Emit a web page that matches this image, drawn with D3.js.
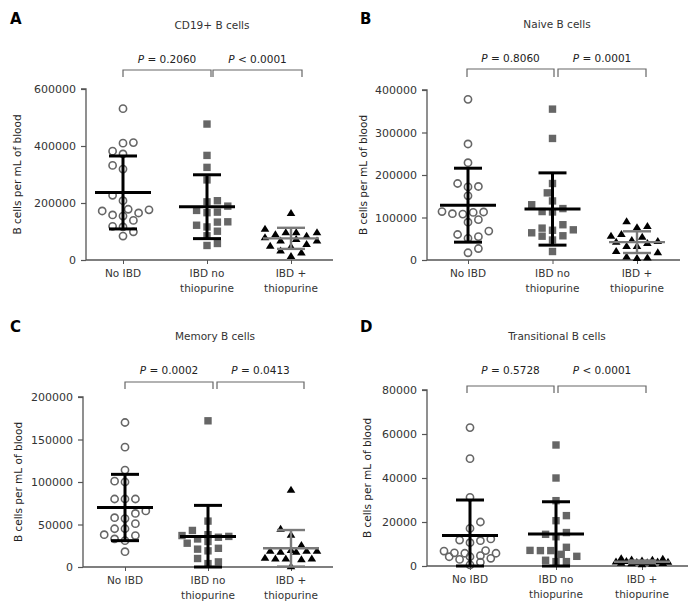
<!DOCTYPE html>
<html><head><meta charset="utf-8">
<script src="https://cdn.jsdelivr.net/npm/d3@7"></script>
<style>body{margin:0;background:#fff}svg text{font-family:"DejaVu Sans",Verdana,sans-serif}</style>
</head><body><svg id="chart" width="700" height="613"></svg>
<script>
// ---------- data ----------
const categories = ["No IBD", "IBD no thiopurine", "IBD + thiopurine"];
const categoryLines = [["No IBD"], ["IBD no", "thiopurine"], ["IBD +", "thiopurine"]];
const panelLetters = ["A", "B", "C", "D"];
const panelTitles = ["CD19+ B cells", "Naive B cells", "Memory B cells", "Transitional B cells"];
const yAxisLabel = "B cells per mL of blood";
const yMaxima = [600000, 400000, 200000, 80000];
const yTickSteps = [200000, 100000, 50000, 20000];
const pValueLabels = [["= 0.2060", "< 0.0001"], ["= 0.8060", "= 0.0001"], ["= 0.0002", "= 0.0413"], ["= 0.5728", "< 0.0001"]];

const cd19NoIBD = [531000, 412000, 410000, 382000, 372000, 332000, 319000, 227000, 208000, 178000, 176000, 172000, 165000, 158000, 154000, 139000, 118000, 116000, 99000, 84000];
const cd19NoThio = [477000, 367000, 325000, 281000, 208000, 204000, 189000, 174000, 168000, 166000, 134000, 133000, 122000, 116000, 101000, 85000, 58000, 51000];
const cd19Thio = [165000, 110000, 97000, 97000, 97000, 90000, 85000, 80000, 74000, 68000, 68000, 56000, 50000, 47000, 33000, 26000, 14000];
const cd19Mean = [237000, 187000, 76000];
const cd19SD = [128000, 112000, 37000];

const naiveNoIBD = [378000, 273000, 229000, 180000, 173000, 172000, 151000, 114000, 113000, 112000, 109000, 108000, 95000, 89000, 68000, 60000, 55000, 51000, 27000, 17000];
const naiveNoThio = [355000, 286000, 180000, 158000, 139000, 130000, 121000, 114000, 113000, 83000, 75000, 71000, 70000, 64000, 57000, 56000, 47000, 20000];
const naiveThio = [91000, 80000, 77000, 61000, 57000, 55000, 47000, 45000, 43000, 40000, 33000, 33000, 21000, 18000, 8000, 6000, 5000];
const naiveMean = [129000, 120000, 42000];
const naiveSD = [87000, 85000, 25500];

const memoryNoIBD = [170000, 141000, 114000, 101000, 100000, 80000, 80000, 80000, 66000, 63000, 58000, 57000, 51000, 45000, 45000, 38000, 37000, 33000, 31000, 18000];
const memoryNoThio = [172000, 54000, 43000, 38000, 37000, 36000, 35000, 33000, 30000, 28000, 22000, 21000, 19000, 10000, 6000, 4000];
const memoryThio = [91000, 45000, 38000, 26000, 20000, 19000, 19000, 19000, 18000, 18000, 11000, 10000, 10000, 10000, 9000, 1000];
const memoryMean = [70000, 36000, 22000];
const memorySD = [39000, 36500, 21500];

const transNoIBD = [62900, 48800, 31200, 20000, 17100, 12300, 11800, 11500, 10600, 7000, 6800, 6000, 5800, 5800, 4700, 4200, 4200, 3500, 3000, 1700, 500];
const transNoThio = [55000, 40000, 29700, 22900, 20600, 15200, 14400, 13300, 8500, 7100, 7000, 7000, 5300, 4400, 2600, 2000, 2000];
const transThio = [3500, 3300, 3000, 2800, 2500, 2300, 2100, 2000, 1900, 1800, 1700, 1500, 1400, 1200, 1000, 800];
const transMean = [13900, 14500, 1900];
const transSD = [16100, 14700, 600];

const panelGroups = [
  [cd19NoIBD, cd19NoThio, cd19Thio],
  [naiveNoIBD, naiveNoThio, naiveThio],
  [memoryNoIBD, memoryNoThio, memoryThio],
  [transNoIBD, transNoThio, transThio]
];
const panelMeans = [cd19Mean, naiveMean, memoryMean, transMean];
const panelSDs = [cd19SD, naiveSD, memorySD, transSD];

// ---------- layout ----------
const layout = [
  {ax: 86, top: 89, bot: 260, end: 333, c0: 123, c2: 291, title: [212, 29], letter: [10, 24], pY: 63, brY: 70, legY: 77, br: [123, 211, 213, 302], ylx: 21},
  {ax: 427, top: 90, bot: 260, end: 680, c0: 468, c2: 637, title: [557, 28], letter: [360, 24], pY: 62, brY: 69, legY: 77, br: [467, 554, 558, 646], ylx: 367},
  {ax: 83, top: 397, bot: 567, end: 333, c0: 125, c2: 291, title: [215, 340], letter: [10, 332], pY: 374, brY: 382, legY: 389, br: [125, 213, 217, 304], ylx: 22},
  {ax: 427, top: 390, bot: 566, end: 688, c0: 470, c2: 642, title: [557, 340], letter: [360, 332], pY: 374, brY: 386, legY: 393, br: [467, 554, 558, 646], ylx: 371}
];

const svg = d3.select("#chart");
const textColor = "#333";
const axisColor = "#555";

function swarm(values, y, cx, step, minDist, maxK) {
  const order = values.map((v, i) => i).sort((a, b) => values[a] - values[b]);
  const placed = [];
  order.forEach((i, n) => {
    const py = y(values[i]);
    let chosen = null, bestD = -1, bestDx = 0;
    for (let k = 0; k <= maxK && chosen === null; k++) {
      const signs = k === 0 ? [0] : (n % 2 ? [1, -1] : [-1, 1]);
      for (const s of signs) {
        const dx = s * k * step;
        let minD = Infinity;
        placed.forEach(p => { const d = Math.hypot(p.x - (cx + dx), p.y - py); if (d < minD) minD = d; });
        if (minD >= minDist) { chosen = dx; break; }
        if (minD > bestD) { bestD = minD; bestDx = dx; }
      }
    }
    if (chosen === null) chosen = bestDx;
    placed.push({x: cx + chosen, y: py, v: values[i]});
  });
  return placed;
}

layout.forEach((L, pi) => {
  const g = svg.append("g");
  const y = d3.scaleLinear().domain([0, yMaxima[pi]]).range([L.bot, L.top]);
  const x = d3.scalePoint().domain(categories).range([L.c0, L.c2]);

  // y axis
  const ticks = d3.range(0, yMaxima[pi] + 1, yTickSteps[pi]);
  const yAxis = d3.axisLeft(y).tickValues(ticks).tickSize(5).tickPadding(5).tickFormat(d3.format("d"));
  const ya = g.append("g").attr("transform", `translate(${L.ax},0)`).call(yAxis);
  ya.select(".domain").attr("stroke", axisColor).attr("stroke-width", 1.3).attr("d", `M-5,${L.top}H0V${L.bot}`);
  ya.selectAll(".tick line").attr("stroke", axisColor).attr("stroke-width", 1.2);
  ya.selectAll(".tick text").attr("fill", textColor).style("font-size", "11px").style("font-family", '"DejaVu Sans",sans-serif');

  // x axis
  const xAxis = d3.axisBottom(x).tickSize(4).tickFormat("");
  const xa = g.append("g").attr("transform", `translate(0,${L.bot})`).call(xAxis);
  xa.select(".domain").attr("stroke", axisColor).attr("stroke-width", 1.3).attr("d", `M${L.ax},0H${L.end}`);
  xa.selectAll(".tick line").attr("stroke", axisColor).attr("stroke-width", 1);
  categories.forEach((c, ci) => {
    categoryLines[ci].forEach((line, li) => {
      g.append("text").attr("x", x(c)).attr("y", L.bot + 17 + li * 15)
        .attr("text-anchor", "middle").attr("fill", textColor).style("font-size", "10.5px").text(line);
    });
  });

  // y label
  g.append("text").attr("transform", `translate(${L.ylx},${(L.top + L.bot) / 2}) rotate(-90)`)
    .attr("text-anchor", "middle").attr("fill", "#222").style("font-size", "10.5px").text(yAxisLabel);

  // title and letter
  g.append("text").attr("x", L.title[0]).attr("y", L.title[1]).attr("text-anchor", "middle")
    .attr("fill", textColor).style("font-size", "10.5px").text(panelTitles[pi]);
  g.append("text").attr("x", L.letter[0]).attr("y", L.letter[1]).attr("fill", "#000")
    .style("font-size", "15px").style("font-weight", "bold").text(panelLetters[pi]);

  // brackets + p values
  [[L.br[0], L.br[1]], [L.br[2], L.br[3]]].forEach((b, bi) => {
    g.append("path").attr("d", `M${b[0]},${L.legY}V${L.brY}H${b[1]}V${L.legY}`)
      .attr("fill", "none").attr("stroke", "#666").attr("stroke-width", 1.2);
    const t = g.append("text").attr("x", (b[0] + b[1]) / 2).attr("y", L.pY).attr("text-anchor", "middle")
      .attr("fill", "#222").style("font-size", "10.5px");
    t.append("tspan").style("font-style", "italic").text("P");
    t.append("tspan").text(" " + pValueLabels[pi][bi]);
  });

  // points
  panelGroups[pi].forEach((vals, gi) => {
    const pts = swarm(vals, y, x(categories[gi]), 5.2, 8.6, 5);
    if (gi === 0) {
      g.selectAll(null).data(pts).enter().append("circle")
        .attr("cx", d => d.x).attr("cy", d => d.y).attr("r", 3.6)
        .attr("fill", "none").attr("stroke", "#666").attr("stroke-width", 1.6);
    } else if (gi === 1) {
      g.selectAll(null).data(pts).enter().append("rect")
        .attr("x", d => d.x - 3.7).attr("y", d => d.y - 3.7).attr("width", 7.4).attr("height", 7.4)
        .attr("fill", "#666");
    } else {
      g.selectAll(null).data(pts).enter().append("path")
        .attr("d", d => `M${d.x},${d.y - 4}L${d.x + 4.3},${d.y + 3}L${d.x - 4.3},${d.y + 3}Z`)
        .attr("fill", "#000");
    }
  });

  // mean +/- SD
  panelMeans[pi].forEach((m, gi) => {
    const cx = x(categories[gi]);
    const sd = panelSDs[pi][gi];
    const hi = Math.min(m + sd, yMaxima[pi]);
    const lo = Math.max(m - sd, 0);
    const col = gi === 2 ? "#7a7a7a" : "#000";
    const w = gi === 2 ? 2.4 : 3;
    g.append("line").attr("x1", cx).attr("x2", cx).attr("y1", y(hi)).attr("y2", y(lo)).attr("stroke", col).attr("stroke-width", w);
    g.append("line").attr("x1", cx - 28).attr("x2", cx + 28).attr("y1", y(m)).attr("y2", y(m)).attr("stroke", col).attr("stroke-width", w);
    [hi, lo].forEach(v => g.append("line").attr("x1", cx - 14).attr("x2", cx + 14).attr("y1", y(v)).attr("y2", y(v)).attr("stroke", col).attr("stroke-width", w));
  });
});
</script></body></html>
